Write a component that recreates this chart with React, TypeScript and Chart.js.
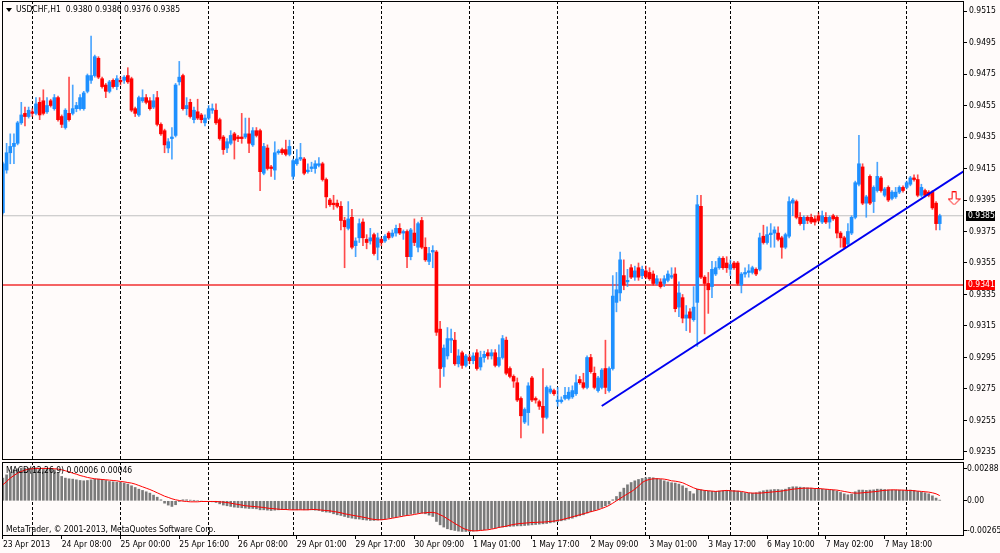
import { useEffect, useRef } from 'react';
import { Chart, registerables } from 'chart.js';

Chart.register(...registerables);

const FONT = "'DejaVu Sans Condensed', 'Liberation Sans', sans-serif";

const symbolTitle = 'USDCHF,H1  0.9380 0.9386 0.9376 0.9385';
const macdTitle = 'MACD(12,26,9) 0.00006 0.00046';
const copyright = 'MetaTrader, \u00A9 2001-2013, MetaQuotes Software Corp.';

// hourly prices, in 1/10000
const opens = [
  9387, 9414, 9425, 9429, 9431, 9444, 9450, 9448, 9451, 9450,
  9457, 9458, 9451, 9458, 9453, 9460, 9448, 9441, 9450, 9450,
  9453, 9453, 9453, 9464, 9471, 9474, 9485, 9472, 9468, 9464,
  9471, 9467, 9471, 9471, 9474, 9472, 9453, 9449, 9458, 9460,
  9458, 9454, 9460, 9443, 9439, 9428, 9434, 9436, 9470, 9474,
  9453, 9457, 9446, 9451, 9449, 9444, 9447, 9452, 9452, 9446,
  9435, 9428, 9431, 9437, 9435, 9435, 9435, 9437, 9430, 9439,
  9439, 9412, 9428, 9416, 9414, 9425, 9427, 9427, 9424, 9410,
  9418, 9421, 9421, 9413, 9415, 9415, 9417, 9418, 9408, 9395,
  9393, 9393, 9391, 9382, 9377, 9384, 9366, 9371, 9381, 9370,
  9369, 9373, 9365, 9370, 9369, 9374, 9372, 9374, 9377, 9374,
  9375, 9359, 9374, 9365, 9382, 9365, 9356, 9362, 9362, 9313,
  9289, 9296, 9306, 9306, 9291, 9298, 9290, 9295, 9293, 9298,
  9289, 9295, 9298, 9296, 9298, 9290, 9295, 9306, 9288, 9283,
  9279, 9269, 9254, 9260, 9282, 9269, 9267, 9264, 9257, 9273,
  9274, 9267, 9267, 9269, 9269, 9270, 9272, 9281, 9279, 9276,
  9295, 9285, 9274, 9276, 9288, 9274, 9288, 9330, 9336, 9347,
  9343, 9352, 9346, 9352, 9347, 9350, 9349, 9348, 9342, 9343,
  9342, 9344, 9346, 9348, 9327, 9333, 9320, 9324, 9319, 9330,
  9391, 9346, 9342, 9340, 9348, 9352, 9358, 9355, 9351, 9355,
  9355, 9341, 9348, 9349, 9349, 9351, 9351, 9372, 9368, 9373,
  9374, 9374, 9371, 9365, 9372, 9393, 9394, 9384, 9380, 9384,
  9384, 9383, 9385, 9381, 9384, 9381, 9385, 9384, 9374, 9371,
  9367, 9374, 9384, 9405, 9416, 9393, 9410, 9394, 9401, 9409,
  9398, 9403, 9396, 9397, 9400, 9403, 9403, 9405, 9409, 9408,
  9398, 9401, 9400, 9400, 9393, 9380,
];
const highs = [
  9419, 9431, 9437, 9437, 9445, 9457, 9454, 9454, 9453, 9460,
  9460, 9465, 9460, 9459, 9462, 9461, 9449, 9453, 9473, 9468,
  9457, 9462, 9464, 9475, 9499, 9487, 9486, 9473, 9469, 9471,
  9472, 9474, 9473, 9474, 9479, 9473, 9454, 9461, 9465, 9462,
  9460, 9462, 9464, 9444, 9440, 9434, 9441, 9469, 9483, 9475,
  9460, 9459, 9454, 9459, 9450, 9449, 9455, 9456, 9456, 9447,
  9436, 9434, 9439, 9438, 9436, 9450, 9447, 9447, 9441, 9441,
  9440, 9431, 9430, 9417, 9432, 9427, 9428, 9433, 9433, 9421,
  9427, 9431, 9422, 9418, 9419, 9420, 9422, 9419, 9409, 9396,
  9398, 9395, 9394, 9384, 9394, 9389, 9371, 9383, 9383, 9373,
  9377, 9374, 9374, 9371, 9373, 9375, 9376, 9379, 9380, 9376,
  9376, 9377, 9383, 9381, 9384, 9371, 9365, 9366, 9363, 9318,
  9303, 9314, 9313, 9311, 9300, 9299, 9297, 9297, 9298, 9300,
  9299, 9299, 9300, 9300, 9300, 9303, 9309, 9308, 9289, 9284,
  9282, 9270, 9263, 9279, 9283, 9270, 9268, 9288, 9277, 9277,
  9275, 9276, 9270, 9276, 9276, 9277, 9284, 9283, 9285, 9296,
  9297, 9289, 9283, 9288, 9306, 9289, 9347, 9349, 9362, 9357,
  9351, 9354, 9353, 9355, 9353, 9353, 9352, 9350, 9347, 9345,
  9347, 9350, 9352, 9352, 9343, 9335, 9328, 9326, 9340, 9398,
  9398, 9347, 9349, 9356, 9356, 9359, 9359, 9359, 9357, 9356,
  9356, 9349, 9352, 9354, 9353, 9352, 9374, 9379, 9378, 9380,
  9378, 9378, 9372, 9374, 9397, 9396, 9395, 9387, 9385, 9385,
  9386, 9385, 9387, 9388, 9387, 9385, 9386, 9385, 9375, 9372,
  9380, 9385, 9407, 9436, 9418, 9398, 9411, 9404, 9419, 9410,
  9403, 9404, 9401, 9403, 9404, 9404, 9407, 9410, 9411, 9411,
  9405, 9402, 9401, 9401, 9394, 9386,
];
const lows = [
  9386, 9412, 9418, 9418, 9430, 9443, 9442, 9447, 9448, 9449,
  9446, 9449, 9450, 9454, 9452, 9445, 9441, 9440, 9445, 9449,
  9451, 9452, 9452, 9463, 9469, 9473, 9472, 9466, 9460, 9463,
  9466, 9465, 9468, 9469, 9469, 9451, 9448, 9448, 9457, 9456,
  9452, 9453, 9442, 9436, 9425, 9425, 9421, 9435, 9468, 9452,
  9449, 9447, 9444, 9446, 9444, 9442, 9446, 9450, 9443, 9433,
  9424, 9425, 9430, 9421, 9432, 9431, 9434, 9425, 9429, 9435,
  9401, 9411, 9414, 9410, 9408, 9424, 9424, 9423, 9423, 9408,
  9417, 9420, 9411, 9412, 9413, 9412, 9416, 9407, 9390, 9391,
  9389, 9390, 9376, 9352, 9376, 9364, 9359, 9368, 9366, 9364,
  9367, 9360, 9357, 9366, 9368, 9370, 9371, 9372, 9373, 9370,
  9352, 9357, 9366, 9362, 9364, 9356, 9354, 9352, 9309, 9276,
  9283, 9294, 9298, 9290, 9289, 9288, 9289, 9291, 9291, 9287,
  9287, 9292, 9294, 9294, 9289, 9289, 9294, 9284, 9282, 9276,
  9267, 9244, 9253, 9252, 9267, 9266, 9262, 9247, 9256, 9272,
  9271, 9264, 9266, 9268, 9268, 9269, 9271, 9278, 9275, 9275,
  9285, 9275, 9273, 9275, 9272, 9273, 9287, 9324, 9331, 9338,
  9340, 9345, 9344, 9344, 9345, 9345, 9344, 9341, 9341, 9339,
  9340, 9343, 9345, 9324, 9321, 9317, 9312, 9311, 9318, 9302,
  9345, 9310, 9323, 9333, 9347, 9351, 9351, 9349, 9347, 9351,
  9341, 9336, 9346, 9346, 9348, 9347, 9350, 9367, 9367, 9365,
  9365, 9369, 9358, 9364, 9371, 9385, 9383, 9379, 9376, 9380,
  9380, 9379, 9381, 9380, 9380, 9377, 9382, 9371, 9365, 9364,
  9366, 9373, 9383, 9404, 9392, 9384, 9392, 9387, 9400, 9400,
  9397, 9394, 9395, 9396, 9399, 9400, 9402, 9404, 9407, 9397,
  9397, 9397, 9397, 9389, 9376, 9376,
];
const closes = [
  9418, 9425, 9429, 9431, 9444, 9449, 9448, 9452, 9450, 9456,
  9449, 9450, 9455, 9455, 9460, 9446, 9443, 9452, 9446, 9453,
  9455, 9460, 9463, 9474, 9474, 9486, 9473, 9467, 9464, 9470,
  9467, 9472, 9470, 9473, 9470, 9452, 9450, 9460, 9460, 9457,
  9453, 9458, 9443, 9437, 9430, 9432, 9435, 9468, 9473, 9453,
  9455, 9448, 9452, 9447, 9446, 9447, 9453, 9453, 9444, 9434,
  9427, 9432, 9436, 9433, 9434, 9434, 9437, 9431, 9439, 9436,
  9413, 9429, 9415, 9415, 9425, 9426, 9425, 9424, 9429, 9420,
  9421, 9422, 9412, 9414, 9416, 9418, 9418, 9408, 9397, 9392,
  9392, 9391, 9382, 9378, 9383, 9365, 9369, 9380, 9371, 9368,
  9371, 9361, 9371, 9368, 9372, 9371, 9374, 9377, 9374, 9375,
  9359, 9376, 9368, 9380, 9365, 9357, 9361, 9363, 9311, 9288,
  9301, 9307, 9307, 9291, 9296, 9290, 9296, 9293, 9296, 9288,
  9295, 9297, 9296, 9298, 9290, 9295, 9307, 9285, 9283, 9280,
  9268, 9258, 9262, 9277, 9268, 9268, 9264, 9257, 9276, 9275,
  9272, 9268, 9268, 9271, 9273, 9274, 9279, 9279, 9276, 9295,
  9286, 9276, 9282, 9287, 9276, 9288, 9334, 9338, 9357, 9341,
  9344, 9346, 9350, 9346, 9351, 9346, 9345, 9342, 9345, 9340,
  9345, 9348, 9347, 9326, 9336, 9320, 9322, 9320, 9327, 9392,
  9346, 9342, 9338, 9351, 9352, 9358, 9352, 9352, 9354, 9352,
  9342, 9348, 9349, 9350, 9352, 9348, 9371, 9368, 9373, 9374,
  9376, 9370, 9365, 9373, 9394, 9395, 9384, 9380, 9384, 9382,
  9381, 9381, 9382, 9385, 9381, 9384, 9383, 9374, 9371, 9365,
  9375, 9384, 9406, 9418, 9393, 9397, 9393, 9403, 9410, 9401,
  9402, 9395, 9400, 9400, 9403, 9401, 9406, 9409, 9408, 9398,
  9403, 9398, 9398, 9390, 9380, 9385,
];

// MACD(12,26,9), in 1/100000
const macdMain = [
  201, 230, 257, 275, 284, 289, 289, 289, 292, 292,
  289, 289, 287, 284, 275, 251, 216, 201, 195, 192,
  186, 180, 177, 180, 186, 192, 192, 186, 180, 171,
  168, 165, 162, 157, 148, 133, 118, 103, 92, 80,
  68, 50, 32, 9, -21, -38, -50, -35, -6, 9,
  9, 6, 3, 0, -3, -6, -6, -9, -15, -27,
  -38, -44, -50, -56, -59, -62, -65, -68, -68, -71,
  -80, -80, -83, -86, -83, -80, -77, -77, -74, -80,
  -80, -77, -80, -80, -80, -83, -86, -95, -100, -103,
  -115, -124, -130, -139, -148, -154, -160, -162, -168, -171,
  -174, -174, -171, -168, -162, -154, -148, -142, -136, -130,
  -124, -118, -112, -109, -109, -115, -127, -139, -183, -213,
  -233, -248, -257, -263, -269, -272, -272, -272, -269, -266,
  -260, -257, -251, -245, -242, -236, -233, -230, -227, -225,
  -222, -222, -219, -216, -213, -210, -207, -204, -201, -195,
  -189, -183, -177, -171, -162, -154, -142, -133, -124, -109,
  -97, -86, -74, -59, -44, -30, 9, 38, 77, 112,
  142, 162, 177, 189, 198, 204, 207, 204, 198, 189,
  177, 168, 160, 157, 148, 133, 112, 83, 62, 103,
  97, 92, 86, 83, 83, 86, 89, 92, 92, 92,
  86, 77, 71, 68, 68, 71, 80, 89, 95, 97,
  100, 100, 97, 103, 118, 124, 124, 121, 118, 115,
  112, 109, 106, 103, 100, 97, 95, 86, 74, 62,
  53, 59, 80, 95, 95, 92, 95, 97, 103, 103,
  100, 97, 95, 95, 95, 92, 95, 95, 92, 83,
  77, 71, 62, 44, 24, 6,
];
const macdSignal = [
  142, 171, 201, 224, 245, 260, 272, 281, 284, 287,
  287, 287, 287, 287, 284, 281, 275, 266, 257, 245,
  236, 224, 216, 207, 201, 195, 192, 189, 186, 183,
  180, 177, 171, 168, 162, 157, 148, 136, 124, 112,
  100, 86, 71, 56, 41, 30, 18, 9, 3, -3,
  -6, -9, -9, -9, -6, -6, -6, -6, -6, -9,
  -12, -15, -21, -27, -32, -38, -44, -47, -50, -53,
  -56, -59, -65, -68, -71, -74, -77, -77, -80, -80,
  -80, -80, -80, -80, -77, -77, -80, -83, -86, -89,
  -95, -100, -106, -115, -121, -127, -133, -139, -145, -151,
  -160, -165, -168, -168, -165, -160, -154, -148, -142, -136,
  -130, -127, -121, -115, -109, -106, -103, -103, -109, -124,
  -139, -160, -180, -201, -219, -239, -254, -263, -266, -266,
  -263, -260, -257, -251, -245, -236, -230, -225, -216, -210,
  -204, -201, -198, -195, -192, -192, -189, -189, -186, -183,
  -180, -174, -168, -160, -151, -142, -133, -124, -115, -106,
  -97, -89, -80, -68, -56, -41, -21, 0, 21, 41,
  62, 80, 103, 130, 162, 180, 189, 195, 195, 195,
  192, 186, 177, 174, 168, 160, 145, 130, 115, 103,
  97, 92, 89, 86, 83, 86, 89, 92, 89, 86,
  86, 83, 77, 71, 68, 68, 68, 71, 74, 77,
  80, 83, 86, 92, 97, 103, 106, 109, 112, 112,
  112, 109, 109, 106, 103, 100, 97, 95, 89, 83,
  77, 71, 68, 68, 71, 74, 77, 80, 83, 89,
  92, 95, 97, 97, 95, 95, 92, 92, 89, 86,
  83, 80, 77, 71, 62, 46,
];

const priceTicks = [
  0.9235, 0.9255, 0.9275, 0.9295, 0.9315, 0.9335, 0.9355, 0.9375,
  0.9395, 0.9415, 0.9435, 0.9455, 0.9475, 0.9495, 0.9515,
];
const macdTicks = [-0.00265, 0, 0.00288];

const timeLabelBars = [0, 16, 32, 48, 64, 80, 96, 112, 128, 144, 160, 176, 192, 208, 224, 240];
const timeLabels = [
  '23 Apr 2013', '24 Apr 08:00', '25 Apr 00:00', '25 Apr 16:00', '26 Apr 08:00',
  '29 Apr 01:00', '29 Apr 17:00', '30 Apr 09:00', '1 May 01:00', '1 May 17:00',
  '2 May 09:00', '3 May 01:00', '3 May 17:00', '6 May 10:00', '7 May 02:00', '7 May 18:00',
];
const daySeparators = [8, 32, 56, 79, 103, 127, 151, 175, 198, 222, 246];

const bidPrice = 0.9385;
const levelPrice = 0.9341;
const trendLine = [
  { x: 163.0, y: 0.92642 },
  { x: 261.6, y: 0.94134 },
];
const sellArrow = { x: 258.9, y: 0.9396 };

const X_MIN = -0.25;
const X_MAX = 261.6;
const PRICE_MIN = 0.922992;
const PRICE_MAX = 0.952135;
const MACD_MIN = -0.0031197;
const MACD_MAX = 0.0034383;

const BULL = '#1E90FF';
const BEAR = '#FF0000';

const makeArrow = () => {
  const c = document.createElement('canvas');
  c.width = 13;
  c.height = 14;
  const a = c.getContext('2d');
  if (a) {
    a.fillStyle = '#ffffff';
    a.strokeStyle = '#FF0000';
    a.lineWidth = 1;
    a.beginPath();
    a.moveTo(4.5, 0.5);
    a.lineTo(8.5, 0.5);
    a.lineTo(8.5, 7.5);
    a.lineTo(12.5, 7.5);
    a.lineTo(6.5, 13.5);
    a.lineTo(0.5, 7.5);
    a.lineTo(4.5, 7.5);
    a.closePath();
    a.fill();
    a.stroke();
  }
  return c;
};

// axis boxes must not push the plot area in
const noPadding = (s: any) => {
  s.paddingTop = 0;
  s.paddingBottom = 0;
  s.paddingLeft = 0;
  s.paddingRight = 0;
};

const frame = (chart: Chart) => {
  const { ctx, chartArea: a } = chart;
  ctx.save();
  ctx.strokeStyle = '#000';
  ctx.lineWidth = 1;
  ctx.strokeRect(a.left + 0.5, a.top + 0.5, a.right - a.left - 1, a.bottom - a.top - 1);
  ctx.restore();
};

const mainDecor = {
  id: 'mainDecor',
  afterDraw(chart: Chart) {
    frame(chart);
    const { ctx, chartArea: a } = chart;
    const y = chart.scales.y;
    ctx.save();
    ctx.fillStyle = '#000';
    ctx.beginPath();
    ctx.moveTo(6, 8);
    ctx.lineTo(12, 8);
    ctx.lineTo(9, 12);
    ctx.closePath();
    ctx.fill();
    ctx.font = `8.5px ${FONT}`;
    ctx.textBaseline = 'middle';
    ctx.textAlign = 'left';
    ctx.fillText(symbolTitle, 16, 10);

    const box = (v: number, bg: string) => {
      const py = Math.round(y.getPixelForValue(v));
      ctx.fillStyle = bg;
      ctx.fillRect(a.right + 2, py - 5, 29, 10);
      ctx.fillStyle = '#fff';
      ctx.fillText(v.toFixed(4), a.right + 4, py);
    };
    box(levelPrice, BEAR);
    box(bidPrice, '#000');
    ctx.restore();
  },
};

const macdDecor = {
  id: 'macdDecor',
  afterDraw(chart: Chart) {
    frame(chart);
    const { ctx } = chart;
    ctx.save();
    ctx.fillStyle = '#000';
    ctx.font = `8.5px ${FONT}`;
    ctx.textBaseline = 'middle';
    ctx.textAlign = 'left';
    ctx.fillText(macdTitle, 6, 10);
    ctx.fillText(copyright, 6, 69);
    ctx.restore();
  },
};

const tickFont = { family: FONT, size: 8.5 };

export default function App() {
  const mainRef = useRef<HTMLCanvasElement>(null);
  const macdRef = useRef<HTMLCanvasElement>(null);

  useEffect(() => {
    if (!mainRef.current || !macdRef.current) return;

    const bodies = opens.map((o, i) => ({ x: i, y: [o / 10000, closes[i] / 10000] }));
    const wicks = lows.map((l, i) => ({ x: i, y: [l / 10000, highs[i] / 10000] }));
    const bodyColors = opens.map((o, i) => (closes[i] >= o ? BULL : BEAR));
    const wickColors = opens.map((o, i) =>
      closes[i] >= o ? 'rgba(30,144,255,0.8)' : 'rgba(255,0,0,0.7)'
    );

    const main = new Chart(mainRef.current, {
      type: 'bar',
      data: {
        datasets: [
          {
            type: 'line',
            data: [{ x: X_MIN, y: bidPrice }, { x: X_MAX, y: bidPrice }],
            borderColor: '#C0C0C0',
            borderWidth: 1,
            pointRadius: 0,
            order: 6,
          },
          {
            type: 'line',
            data: [{ x: X_MIN, y: levelPrice }, { x: X_MAX, y: levelPrice }],
            borderColor: '#F23030',
            borderWidth: 1.5,
            pointRadius: 0,
            order: 5,
          },
          {
            type: 'bar',
            data: wicks,
            backgroundColor: wickColors,
            barThickness: 1,
            grouped: false,
            order: 4,
          },
          {
            type: 'bar',
            data: bodies,
            backgroundColor: bodyColors,
            barThickness: 3,
            minBarLength: 1,
            grouped: false,
            order: 3,
          },
          {
            type: 'line',
            data: trendLine,
            borderColor: '#0000F0',
            borderWidth: 2,
            pointRadius: 0,
            order: 2,
          },
          {
            type: 'scatter',
            data: [sellArrow],
            pointStyle: makeArrow(),
            pointRadius: 7,
            order: 1,
          },
        ],
      } as any,
      options: {
        animation: false,
        responsive: false,
        events: [],
        layout: { autoPadding: false, padding: { left: 2, top: 1, right: 0, bottom: 1 } },
        plugins: { legend: { display: false }, tooltip: { enabled: false } },
        scales: {
          x: {
            type: 'linear',
            min: X_MIN,
            max: X_MAX,
            offset: false,
            afterBuildTicks: (s: any) => {
              s.ticks = daySeparators.map((v) => ({ value: v }));
            },
            afterFit: (s: any) => {
              s.height = 0;
              noPadding(s);
            },
            grid: { color: '#000', lineWidth: 1, drawTicks: false, offset: false },
            border: { display: false, dash: [3, 2] },
            ticks: { display: false },
          },
          y: {
            type: 'linear',
            position: 'right',
            min: PRICE_MIN,
            max: PRICE_MAX,
            beginAtZero: false,
            afterBuildTicks: (s: any) => {
              s.ticks = priceTicks.map((v) => ({ value: v }));
            },
            afterFit: (s: any) => {
              s.width = 36;
              noPadding(s);
            },
            grid: { drawOnChartArea: false, drawTicks: true, tickLength: 3, color: '#000' },
            border: { display: false },
            ticks: {
              color: '#000',
              font: tickFont,
              padding: 2,
              autoSkip: false,
              callback: (v: any) => Number(v).toFixed(4),
            },
          },
        },
      } as any,
      plugins: [mainDecor],
    });

    const macd = new Chart(macdRef.current, {
      type: 'bar',
      data: {
        datasets: [
          {
            type: 'bar',
            data: macdMain.map((v, i) => ({ x: i, y: v / 100000 })),
            backgroundColor: '#7A7A7A',
            barThickness: 2,
            grouped: false,
            order: 2,
          },
          {
            type: 'line',
            data: macdSignal.map((v, i) => ({ x: i, y: v / 100000 })),
            borderColor: '#FF0000',
            borderWidth: 1,
            pointRadius: 0,
            order: 1,
          },
        ],
      } as any,
      options: {
        animation: false,
        responsive: false,
        events: [],
        layout: { autoPadding: false, padding: { left: 2, top: 1, right: 0, bottom: 0 } },
        plugins: { legend: { display: false }, tooltip: { enabled: false } },
        scales: {
          x: {
            type: 'linear',
            position: 'bottom',
            min: X_MIN,
            max: X_MAX,
            offset: false,
            afterBuildTicks: (s: any) => {
              s.ticks = timeLabelBars.map((v) => ({ value: v }));
            },
            afterFit: (s: any) => {
              s.height = 17;
              noPadding(s);
            },
            grid: { drawOnChartArea: false, drawTicks: true, tickLength: 3, color: '#000', offset: false },
            border: { display: false },
            ticks: {
              color: '#000',
              font: tickFont,
              align: 'start',
              autoSkip: false,
              maxRotation: 0,
              minRotation: 0,
              padding: 1,
              callback: (_v: any, i: number) => timeLabels[i],
            },
          },
          sep: {
            type: 'linear',
            axis: 'x',
            position: 'bottom',
            min: X_MIN,
            max: X_MAX,
            offset: false,
            afterBuildTicks: (s: any) => {
              s.ticks = daySeparators.map((v) => ({ value: v }));
            },
            afterFit: (s: any) => {
              s.height = 0;
              noPadding(s);
            },
            grid: { color: '#000', lineWidth: 1, drawTicks: false, offset: false },
            border: { display: false, dash: [3, 2] },
            ticks: { display: false },
          },
          y: {
            type: 'linear',
            position: 'right',
            min: MACD_MIN,
            max: MACD_MAX,
            beginAtZero: false,
            afterBuildTicks: (s: any) => {
              s.ticks = macdTicks.map((v) => ({ value: v }));
            },
            afterFit: (s: any) => {
              s.width = 36;
              noPadding(s);
            },
            grid: { drawOnChartArea: false, drawTicks: true, tickLength: 3, color: '#000' },
            border: { display: false },
            ticks: {
              color: '#000',
              font: tickFont,
              padding: 0,
              autoSkip: false,
              callback: (v: any) => (Number(v) === 0 ? '0.00' : Number(v).toFixed(5)),
            },
          },
        },
      } as any,
      plugins: [macdDecor],
    });

    return () => {
      main.destroy();
      macd.destroy();
    };
  }, []);

  return (
    <div
      style={{
        position: 'absolute',
        left: 0,
        top: 0,
        width: 1000,
        height: 553,
        background: '#FFFBFA',
        overflow: 'hidden',
      }}
    >
      <canvas
        ref={mainRef}
        width={1000}
        height={461}
        style={{ position: 'absolute', left: 0, top: 0, display: 'block' }}
      />
      <canvas
        ref={macdRef}
        width={1000}
        height={92}
        style={{ position: 'absolute', left: 0, top: 461, display: 'block' }}
      />
    </div>
  );
}
